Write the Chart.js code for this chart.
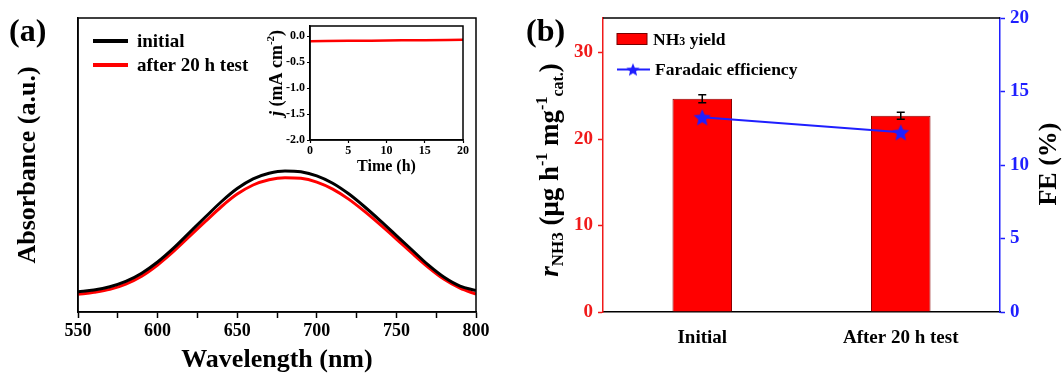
<!DOCTYPE html>
<html>
<head>
<meta charset="utf-8">
<script src="https://cdn.jsdelivr.net/npm/chart.js@4.4.1/dist/chart.umd.min.js"></script>
<style>
  body { margin: 0; background: #fff; }
  #painel { position: relative; width: 1062px; height: 376px; overflow: hidden; background: #fff; }
  canvas { position: absolute; }
</style>
</head>
<body>
<div id="painel">
  <canvas id="graficoA" width="520" height="376" style="left:0;top:0"></canvas>
  <canvas id="graficoInset" width="220" height="166" style="left:250px;top:14px"></canvas>
  <canvas id="graficoB" width="542" height="376" style="left:520px;top:0"></canvas>
</div>
<script>
// (a) UV-vis spectra
const wavelength = [550, 560, 570, 580, 590, 600, 610, 620, 630, 640, 650, 660, 670, 680, 690, 700, 710, 720, 730, 740, 750, 760, 770, 780, 790, 800];
const absInitial = [0.069, 0.075, 0.086, 0.104, 0.132, 0.170, 0.217, 0.270, 0.323, 0.375, 0.420, 0.453, 0.472, 0.480, 0.477, 0.463, 0.438, 0.402, 0.358, 0.310, 0.260, 0.210, 0.160, 0.118, 0.088, 0.073];
const absAfter = [0.060, 0.067, 0.077, 0.095, 0.122, 0.160, 0.206, 0.257, 0.308, 0.358, 0.401, 0.432, 0.450, 0.457, 0.455, 0.442, 0.418, 0.384, 0.342, 0.296, 0.248, 0.199, 0.152, 0.111, 0.081, 0.061];

// inset: current density during the 20 h test
const tempo = [0, 2, 5, 8, 10, 12, 15, 18, 20];
const densidade = [-0.092, -0.089, -0.086, -0.083, -0.080, -0.077, -0.073, -0.070, -0.067];

// (b) NH3 yield and FE
const amostras = ['Initial', 'After 20 h test'];
const rendimento = [24.66, 22.69];
const erroRendimento = [0.46, 0.40];
const eficiencia = [13.25, 12.23];

const FONTE = 'Liberation Serif, Times New Roman, serif';
const VERMELHO = '#f01a1a';
const AZUL = '#1f1fff';

Chart.defaults.font.family = FONTE;
Chart.defaults.font.weight = 'bold';
Chart.defaults.color = '#000';

function pontos(xs, ys) {
  return xs.map((x, i) => ({x: x, y: ys[i]}));
}

// draws text made of pieces: [texto, tamanho, italico, deslocamento]
function textoRico(ctx, partes, x, y, angulo, cor) {
  ctx.save();
  ctx.translate(x, y);
  ctx.rotate(angulo);
  ctx.textBaseline = 'alphabetic';
  ctx.fillStyle = cor || '#000';
  let total = 0;
  partes.forEach(p => {
    ctx.font = (p[2] ? 'italic ' : '') + 'bold ' + p[1] + 'px ' + FONTE;
    total += ctx.measureText(p[0]).width;
  });
  let cx = -total / 2;
  partes.forEach(p => {
    ctx.font = (p[2] ? 'italic ' : '') + 'bold ' + p[1] + 'px ' + FONTE;
    ctx.fillText(p[0], cx, p[3] || 0);
    cx += ctx.measureText(p[0]).width;
  });
  ctx.restore();
}

function geraEstrela(r, cor) {
  const c = document.createElement('canvas');
  c.width = c.height = Math.ceil(r * 2) + 2;
  const ctx = c.getContext('2d');
  ctx.translate(c.width / 2, c.height / 2 + r * 0.1);
  ctx.beginPath();
  for (let k = 0; k < 10; k++) {
    const rr = k % 2 ? r * 0.45 : r;
    const a = -Math.PI / 2 + k * Math.PI / 5;
    ctx.lineTo(rr * Math.cos(a), rr * Math.sin(a));
  }
  ctx.closePath();
  ctx.fillStyle = cor;
  ctx.fill();
  return c;
}

const moldura = {
  id: 'moldura',
  afterDraw(chart) {
    const {ctx, chartArea: a} = chart;
    ctx.save();
    ctx.strokeStyle = '#000';
    ctx.lineWidth = 1.5;
    ctx.strokeRect(a.left, a.top, a.right - a.left, a.bottom - a.top);
    ctx.restore();
  }
};

// ---------- (a) ----------
const legendaA = {
  id: 'legendaA',
  afterDraw(chart) {
    const ctx = chart.ctx;
    const linhasY = [41, 65];
    const textoY = [47, 71];
    chart.data.datasets.forEach((ds, i) => {
      ctx.save();
      ctx.strokeStyle = ds.borderColor;
      ctx.lineWidth = 4;
      ctx.beginPath();
      ctx.moveTo(93, linhasY[i]);
      ctx.lineTo(128, linhasY[i]);
      ctx.stroke();
      ctx.fillStyle = '#000';
      ctx.font = 'bold 19px ' + FONTE;
      ctx.textBaseline = 'alphabetic';
      ctx.fillText(ds.label, 137, textoY[i]);
      ctx.restore();
    });
    ctx.save();
    ctx.font = 'bold 32px ' + FONTE;
    ctx.fillStyle = '#000';
    ctx.fillText('(a)', 9, 41);
    ctx.restore();
  }
};

new Chart(document.getElementById('graficoA'), {
  type: 'line',
  data: {
    datasets: [{
      label: 'initial',
      data: pontos(wavelength, absInitial),
      borderColor: '#000',
      borderWidth: 3,
      pointRadius: 0,
      cubicInterpolationMode: 'monotone'
    }, {
      label: 'after 20 h test',
      data: pontos(wavelength, absAfter),
      borderColor: '#ff0000',
      borderWidth: 3,
      pointRadius: 0,
      cubicInterpolationMode: 'monotone'
    }]
  },
  options: {
    responsive: false,
    animation: false,
    layout: {padding: {top: 18, right: 44, left: 0, bottom: 0}},
    plugins: {legend: {display: false}, tooltip: {enabled: false}},
    scales: {
      x: {
        type: 'linear', min: 550, max: 800,
        afterFit: s => { s.height = 64; },
        border: {color: '#000', width: 1.5},
        grid: {drawOnChartArea: false, tickLength: 6, tickColor: '#000', tickWidth: 1.5},
        ticks: {stepSize: 25, padding: 3, font: {size: 18}, callback: v => v % 50 === 0 ? v : ''},
        title: {display: true, text: 'Wavelength (nm)', font: {size: 26}, padding: {top: 0, bottom: 0}}
      },
      y: {
        min: 0, max: 1,
        afterFit: s => { s.width = 78; },
        border: {color: '#000', width: 1.5},
        grid: {display: false, drawTicks: false},
        ticks: {display: false},
        title: {display: true, text: 'Absorbance (a.u.)', font: {size: 26}, padding: {top: 13, bottom: 0}}
      }
    }
  },
  plugins: [moldura, legendaA]
});

// ---------- inset ----------
const tituloInset = {
  id: 'tituloInset',
  afterDraw(chart) {
    textoRico(chart.ctx, [['j', 18, true], [' (mA cm', 18], ['-2', 11, false, -8], [')', 18]], 32, 59, -Math.PI / 2);
  }
};

new Chart(document.getElementById('graficoInset'), {
  type: 'line',
  data: {
    datasets: [{
      data: pontos(tempo, densidade),
      borderColor: '#ff0000',
      borderWidth: 2.5,
      pointRadius: 0
    }]
  },
  options: {
    responsive: false,
    animation: false,
    layout: {padding: {top: 12, right: 5, left: 0, bottom: 0}},
    plugins: {legend: {display: false}, tooltip: {enabled: false}},
    scales: {
      x: {
        type: 'linear', min: 0, max: 20,
        afterFit: s => { s.height = 40; },
        border: {color: '#000', width: 1.5},
        grid: {drawOnChartArea: false, tickLength: 3, tickColor: '#000', tickWidth: 1.2},
        ticks: {stepSize: 5, padding: 1, font: {size: 12}},
        title: {display: true, text: 'Time (h)', font: {size: 16}, padding: {top: 0, bottom: 4}}
      },
      y: {
        min: -2, max: 0.2,
        afterFit: s => { s.width = 60; },
        border: {color: '#000', width: 1.5},
        grid: {drawOnChartArea: false, tickLength: 3, tickColor: '#000', tickWidth: 1.2},
        ticks: {stepSize: 0.5, includeBounds: false, padding: 2, font: {size: 12}, callback: v => v.toFixed(1)}
      }
    }
  },
  plugins: [moldura, tituloInset]
});

// ---------- (b) ----------
const estrela = geraEstrela(9, AZUL);
const estrelaPequena = geraEstrela(7, AZUL);

const barrasErro = {
  id: 'barrasErro',
  afterDatasetDraw(chart, args) {
    if (args.index !== 0) return;
    const {ctx} = chart;
    const y = chart.scales.y;
    args.meta.data.forEach((barra, i) => {
      const topo = y.getPixelForValue(rendimento[i] + erroRendimento[i]);
      const base = y.getPixelForValue(rendimento[i] - erroRendimento[i]);
      ctx.save();
      ctx.strokeStyle = '#000';
      ctx.lineWidth = 1.5;
      ctx.beginPath();
      ctx.moveTo(barra.x, topo); ctx.lineTo(barra.x, base);
      ctx.moveTo(barra.x - 4, topo); ctx.lineTo(barra.x + 4, topo);
      ctx.moveTo(barra.x - 4, base); ctx.lineTo(barra.x + 4, base);
      ctx.stroke();
      ctx.restore();
    });
  }
};

function textoLegenda(ctx, partes, x, y) {
  ctx.save();
  ctx.fillStyle = '#000';
  ctx.textBaseline = 'alphabetic';
  let cx = x;
  partes.forEach(p => {
    ctx.font = 'bold ' + p[1] + 'px ' + FONTE;
    ctx.fillText(p[0], cx, y);
    cx += ctx.measureText(p[0]).width;
  });
  ctx.restore();
}

const extrasB = {
  id: 'extrasB',
  afterDraw(chart) {
    const {ctx, chartArea: a} = chart;
    ctx.save();
    // top frame line
    ctx.strokeStyle = '#000';
    ctx.lineWidth = 1.5;
    ctx.beginPath();
    ctx.moveTo(a.left, a.top);
    ctx.lineTo(a.right, a.top);
    ctx.stroke();

    // legend
    const barra = chart.data.datasets[0];
    ctx.fillStyle = barra.backgroundColor;
    ctx.fillRect(97, 33.5, 30, 11);
    ctx.strokeStyle = '#700';
    ctx.lineWidth = 1;
    ctx.strokeRect(97, 33.5, 30, 11);
    textoLegenda(ctx, [['NH', 17.5], ['3', 12], [' yield', 17.5]], 133, 45);

    ctx.strokeStyle = AZUL;
    ctx.lineWidth = 2;
    ctx.beginPath();
    ctx.moveTo(97, 69.5);
    ctx.lineTo(130, 69.5);
    ctx.stroke();
    ctx.drawImage(estrelaPequena, 113 - estrelaPequena.width / 2, 69.5 - estrelaPequena.height / 2);
    textoLegenda(ctx, [['Faradaic efficiency', 17.5]], 135, 75);

    ctx.font = 'bold 32px ' + FONTE;
    ctx.fillStyle = '#000';
    ctx.textBaseline = 'alphabetic';
    ctx.fillText('(b)', 6, 41);
    ctx.restore();

    textoRico(ctx, [['r', 27, true], ['NH3', 17, false, 5], [' (\u03bcg h', 27], ['-1', 16, false, -11],
      [' mg', 27], ['-1', 16, false, -11], ['cat.', 16, false, 5], [')', 27]], 38, 170, -Math.PI / 2);
    textoRico(ctx, [['FE (%)', 26]], 536, 164, -Math.PI / 2);
  }
};

new Chart(document.getElementById('graficoB'), {
  data: {
    labels: amostras,
    datasets: [{
      type: 'bar',
      label: 'NH3 yield',
      data: rendimento,
      yAxisID: 'y',
      backgroundColor: '#ff0000',
      borderColor: '#8a0000',
      borderWidth: 1,
      barPercentage: 0.6,
      categoryPercentage: 0.5,
      order: 1
    }, {
      type: 'line',
      label: 'Faradaic efficiency',
      data: eficiencia,
      yAxisID: 'y1',
      borderColor: AZUL,
      borderWidth: 2,
      pointStyle: estrela,
      pointRadius: 9,
      order: 0
    }]
  },
  options: {
    responsive: false,
    animation: false,
    layout: {padding: {top: 18, right: 0, left: 0, bottom: 0}},
    plugins: {legend: {display: false}, tooltip: {enabled: false}},
    scales: {
      x: {
        type: 'category',
        afterFit: s => { s.height = 64; },
        border: {color: '#000', width: 1.5},
        grid: {display: false, drawTicks: false},
        ticks: {padding: 15, font: {size: 19}}
      },
      y: {
        position: 'left', min: 0, max: 34,
        afterFit: s => { s.width = 83; },
        border: {color: VERMELHO, width: 1.5},
        grid: {drawOnChartArea: false, tickLength: 5, tickColor: VERMELHO, tickWidth: 1.5},
        ticks: {stepSize: 10, includeBounds: false, padding: 5, color: VERMELHO, font: {size: 19}}
      },
      y1: {
        position: 'right', min: 0, max: 20,
        afterFit: s => { s.width = 62; },
        border: {color: AZUL, width: 1.5},
        grid: {drawOnChartArea: false, tickLength: 5, tickColor: AZUL, tickWidth: 1.5},
        ticks: {stepSize: 5, padding: 5, color: AZUL, font: {size: 19}}
      }
    }
  },
  plugins: [barrasErro, extrasB]
});
</script>
</body>
</html>
